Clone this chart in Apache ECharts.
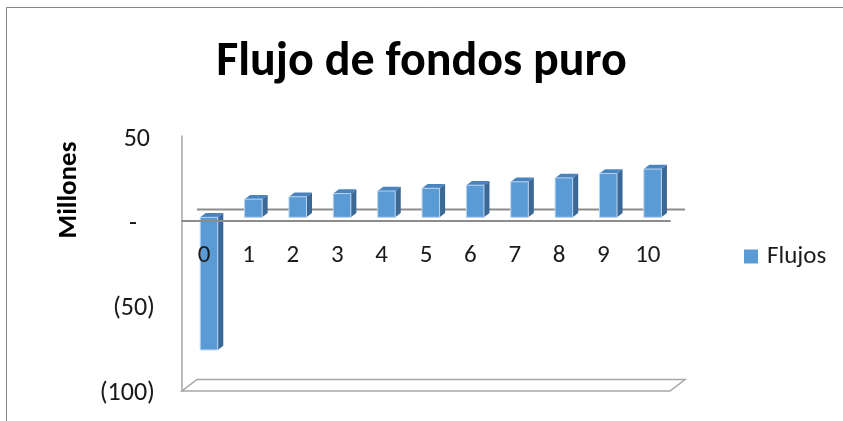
<!DOCTYPE html>
<html>
<head>
<meta charset="utf-8">
<script src="https://cdn.jsdelivr.net/npm/echarts@6/dist/echarts.min.js"></script>
<style>
  html, body { margin: 0; padding: 0; background: #ffffff; }
  #chart { width: 843px; height: 421px; }
</style>
</head>
<body>
<div id="chart"></div>
<script>
// Cash flow per period, in millions
const periods = ['0', '1', '2', '3', '4', '5', '6', '7', '8', '9', '10'];
const flujos = [-78, 10.7, 12.1, 14.0, 15.5, 17.1, 18.9, 20.9, 23.2, 25.8, 28.4];
const seriesName = 'Flujos';
const chartTitle = 'Flujo de fondos puro';
const unitLabel = 'Millones';
const valueMin = -100;
const valueMax = 50;
const valueStep = 50;

const FONT = 'Carlito, Calibri, Lato, sans-serif';

// Plot area (front plane of the pseudo-3D box)
const GRID = { left: 182, right: 173, top: 136, bottom: 30 };
const CHART_H = 421;
const plotHeight = CHART_H - GRID.top - GRID.bottom;
// Category axis sits on the zero level, not on the floor
const zeroOffset = -plotHeight * (0 - valueMin) / (valueMax - valueMin);

// Pseudo-3D box: pixel offset from the front plane to the back wall
const DEPTH = [15, -11.5];
// Bars occupy this depth slice of the box
const BAR_FRONT = 0.32;
const BAR_BACK = 0.69;
const BAR_WIDTH = 0.395; // fraction of a category band

const COLORS = {
  front: '#5b9bd5',
  top: '#4a84bf',
  side: '#3b6894',
  edge: '#b9d3ef',
  axis: '#8c8c8c',
  floor: '#a6a6a6'
};

function accounting(v) {
  if (v === 0) return '{z|-}';
  if (v < 0) return '{n|(' + Math.abs(v) + ')}';
  return '{p|' + v + '}';
}

function renderBar(params, api) {
  const i = api.value(0);
  const v = api.value(1);
  const base = api.coord([i, 0]);
  const tip = api.coord([i, v]);
  const bw = api.size([1, 0])[0] * BAR_WIDTH;
  const fx = DEPTH[0] * BAR_FRONT, fy = DEPTH[1] * BAR_FRONT;
  const dx = DEPTH[0] * (BAR_BACK - BAR_FRONT);
  const dy = DEPTH[1] * (BAR_BACK - BAR_FRONT);
  const x0 = base[0] - bw / 2 + fx;
  const x1 = x0 + bw;
  const yA = base[1] + fy, yB = tip[1] + fy;
  const yHi = Math.min(yA, yB), yLo = Math.max(yA, yB);
  return {
    type: 'group',
    children: [
      {
        type: 'polygon',
        shape: { points: [[x1, yHi], [x1 + dx, yHi + dy], [x1 + dx, yLo + dy], [x1, yLo]] },
        style: { fill: COLORS.side }
      },
      {
        type: 'polygon',
        shape: { points: [[x0, yHi], [x1, yHi], [x1 + dx, yHi + dy], [x0 + dx, yHi + dy]] },
        style: { fill: COLORS.top }
      },
      {
        type: 'rect',
        shape: { x: x0, y: yHi, width: bw, height: yLo - yHi },
        style: { fill: COLORS.front, stroke: COLORS.edge, lineWidth: 1 }
      }
    ]
  };
}

// Floor of the box and the zero line on the back wall
function renderFrame(params, api) {
  const cs = params.coordSys;
  const zeroY = api.coord([0, 0])[1];
  const left = cs.x, right = cs.x + cs.width, bottom = cs.y + cs.height;
  const dx = DEPTH[0], dy = DEPTH[1];
  return {
    type: 'group',
    children: [
      {
        type: 'polygon',
        shape: { points: [[left, bottom], [right, bottom], [right + dx, bottom + dy], [left + dx, bottom + dy]] },
        style: { fill: '#ffffff', stroke: COLORS.floor, lineWidth: 1.5 }
      },
      {
        type: 'line',
        shape: { x1: left + dx, y1: zeroY + dy, x2: right + dx, y2: zeroY + dy },
        style: { stroke: COLORS.axis, lineWidth: 2 }
      }
    ]
  };
}

const chart = echarts.init(document.getElementById('chart'), null, { renderer: 'canvas' });

chart.setOption({
  animation: false,
  backgroundColor: '#ffffff',
  textStyle: { fontFamily: FONT },
  title: {
    text: chartTitle,
    left: 'center',
    top: 34,
    textStyle: { fontFamily: FONT, fontSize: 48, fontWeight: 'bold', color: '#000000' }
  },
  legend: {
    data: [seriesName],
    left: 744,
    top: 244,
    padding: 0,
    icon: 'rect',
    itemWidth: 14,
    itemHeight: 14,
    itemGap: 8,
    textStyle: { fontFamily: FONT, fontSize: 25, color: '#1a1a1a', padding: [0, 0, 0, 4] }
  },
  grid: {
    left: GRID.left, right: GRID.right, top: GRID.top, bottom: GRID.bottom,
    containLabel: false,
    outerBoundsMode: 'none'
  },
  xAxis: {
    type: 'category',
    data: periods,
    position: 'bottom',
    offset: zeroOffset,
    z: 3,
    axisLine: { show: true, onZero: false, lineStyle: { color: COLORS.axis, width: 2 } },
    axisTick: { show: false },
    axisLabel: { margin: 22, fontFamily: FONT, fontSize: 25, color: '#1a1a1a' },
    splitLine: { show: false }
  },
  yAxis: {
    type: 'value',
    min: valueMin,
    max: valueMax,
    interval: valueStep,
    axisLine: { show: true, lineStyle: { color: COLORS.floor, width: 1.5 } },
    axisTick: { show: false },
    splitLine: { show: false },
    axisLabel: {
      margin: 27,
      formatter: accounting,
      rich: {
        p: { fontFamily: FONT, fontSize: 26, color: '#1a1a1a', padding: [6, 5, 0, 0] },
        z: { fontFamily: FONT, fontSize: 26, color: '#1a1a1a', padding: [6, 18, 0, 0] },
        n: { fontFamily: FONT, fontSize: 26, color: '#1a1a1a', padding: [5, 0, 0, 0] }
      }
    }
  },
  graphic: [
    {
      type: 'rect',
      silent: true,
      z: -10,
      shape: { x: 6.5, y: 7.5, width: 900, height: 500 },
      style: { fill: 'none', stroke: '#868686', lineWidth: 1 }
    },
    {
      type: 'text',
      x: 69,
      y: 190,
      rotation: Math.PI / 2,
      style: {
        text: unitLabel,
        fontFamily: FONT,
        fontSize: 27,
        fontWeight: 'bold',
        fill: '#000000',
        align: 'center',
        verticalAlign: 'middle'
      }
    }
  ],
  series: [
    {
      type: 'custom',
      name: 'frame',
      silent: true,
      z: 1,
      renderItem: renderFrame,
      data: [[0, 0]],
      tooltip: { show: false }
    },
    {
      type: 'custom',
      name: seriesName,
      z: 2,
      itemStyle: { color: COLORS.front },
      renderItem: renderBar,
      encode: { x: 0, y: 1 },
      data: flujos.map((v, i) => [i, v])
    }
  ]
});
</script>
</body>
</html>
